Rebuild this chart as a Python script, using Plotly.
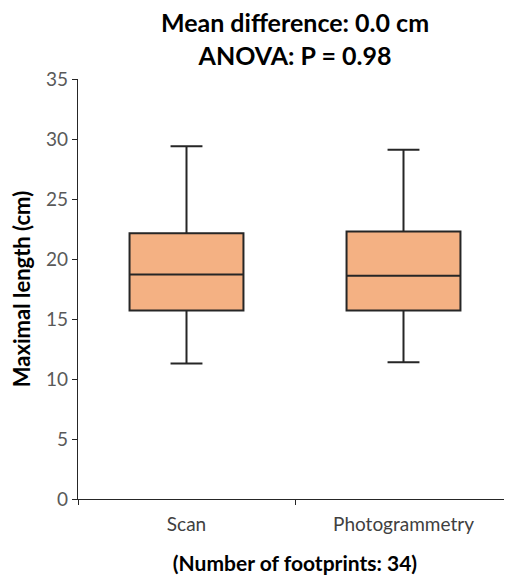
import plotly.graph_objects as go

# Box statistics (cm)
categories = ["Scan", "Photogrammetry"]
lower_whisker = [11.3, 11.4]
q1_values = [15.7, 15.7]
medians = [18.7, 18.6]
q3_values = [22.15, 22.3]
upper_whisker = [29.4, 29.1]

title_text = "<b>Mean difference: 0.0 cm<br>ANOVA: P = 0.98</b>"

fig = go.Figure(go.Box(
    x=categories,
    q1=q1_values,
    median=medians,
    q3=q3_values,
    lowerfence=lower_whisker,
    upperfence=upper_whisker,
    fillcolor="#F4B183",
    line=dict(color="#262626", width=2),
    width=0.525,
    whiskerwidth=0.28,
    hoverinfo="skip",
    showlegend=False,
))

# the page body adds an 8 px margin, so offsets are trimmed to compensate
fig.update_layout(
    width=512,
    height=580,
    margin=dict(l=70, r=8, t=71, b=89, autoexpand=False),
    paper_bgcolor="white",
    plot_bgcolor="white",
    font=dict(family="Lato, Open Sans, sans-serif", color="#595959", size=15),
    title=dict(
        text=title_text,
        x=287 / 512,
        xanchor="center",
        y=1 - 24 / 580,
        yanchor="middle",
        font=dict(size=25, color="black"),
    ),
    xaxis=dict(
        range=[-0.5, 1.5],
        automargin=False,
        showline=True,
        linecolor="#262626",
        linewidth=1.2,
        ticks="outside",
        tickson="boundaries",
        ticklen=5,
        tickcolor="#262626",
        ticklabelstandoff=8,
        showgrid=False,
        zeroline=False,
        tickfont=dict(size=19, color="#404040"),
        title=dict(text="<b>(Number of footprints: 34)</b>",
                   font=dict(size=21, color="black"), standoff=22),
    ),
    yaxis=dict(
        range=[0, 35],
        dtick=5,
        automargin=False,
        showline=True,
        linecolor="#262626",
        linewidth=1.2,
        ticks="outside",
        ticklen=5,
        tickcolor="#262626",
        showgrid=False,
        zeroline=False,
        tickfont=dict(size=19, color="#595959"),
        title=dict(text="<b>Maximal length (cm)</b>",
                   font=dict(size=22, color="black"), standoff=9),
    ),
)

fig.write_html("out.html")
